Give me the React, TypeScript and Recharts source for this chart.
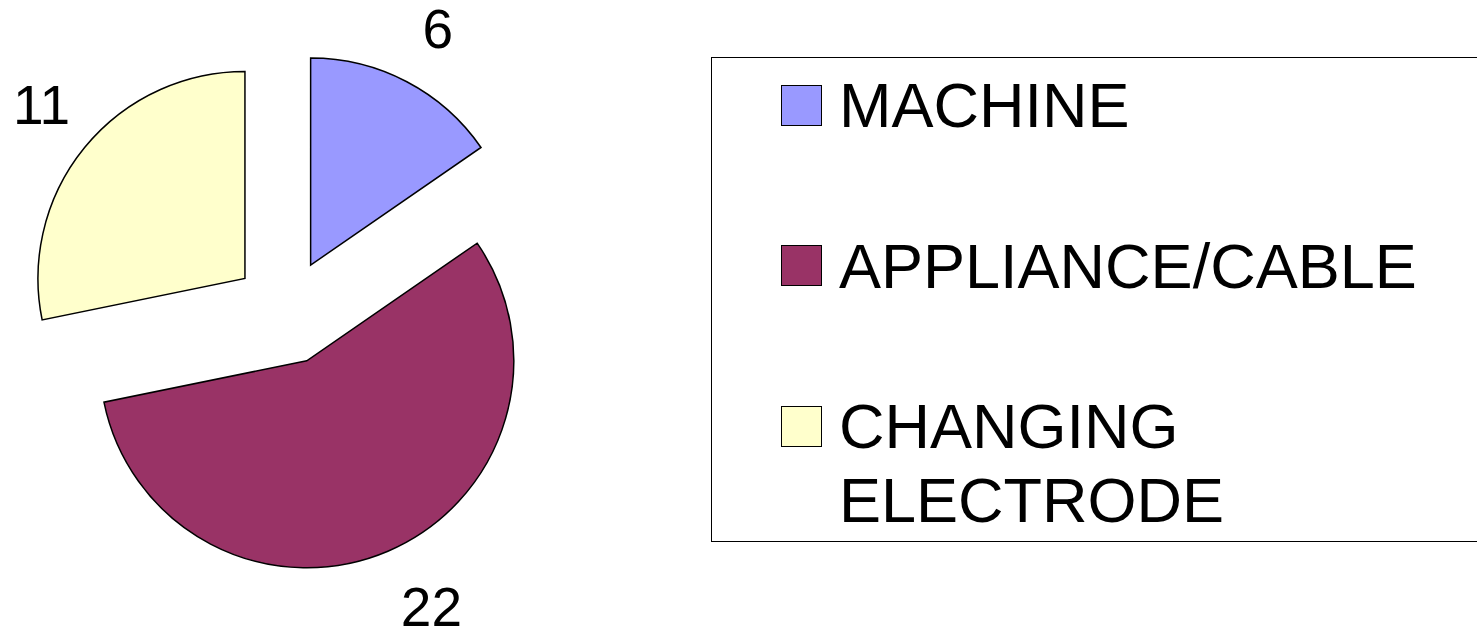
import React from 'react';
import { PieChart, Pie, Legend, Sector } from 'recharts';

const categories = ['MACHINE', 'APPLIANCE/CABLE', 'CHANGING ELECTRODE'];
const values = [6, 22, 11];
const colors = ['#9999FF', '#993366', '#FFFFCC'];

const data = categories.map((name, i) => ({ name, value: values[i] }));

const RAD = Math.PI / 180;
const EXPLODE = 53;
const LABEL_GAP = 38;
const LABEL_FS = 55;
const FONT = '"Liberation Sans", Arial, sans-serif';

const renderSlice = (props: any) => {
  const { cx, cy, midAngle, startAngle, endAngle, outerRadius, index, value } = props;
  const ux = Math.cos(-midAngle * RAD);
  const uy = Math.sin(-midAngle * RAD);
  const ex = cx + EXPLODE * ux;
  const ey = cy + EXPLODE * uy;
  const lr = outerRadius + EXPLODE + LABEL_GAP;
  const px = cx + lr * ux;
  const py = cy + lr * uy;
  const anchor = ux >= 0 ? 'start' : 'end';
  const tx = ux >= 0 ? px - 2 : px + 15;
  const ty = uy < 0 ? py : py + 0.716 * LABEL_FS;
  return (
    <g key={`slice-${index}`}>
      <Sector
        cx={ex}
        cy={ey}
        innerRadius={0}
        outerRadius={outerRadius}
        startAngle={startAngle}
        endAngle={endAngle}
        fill={colors[index]}
        stroke="#000"
        strokeWidth={1.5}
      />
      <text
        x={tx}
        y={ty}
        textAnchor={anchor}
        fontFamily={FONT}
        fontSize={LABEL_FS}
        fill="#000"
      >
        {value}
      </text>
    </g>
  );
};

const ROW = 160.5;
const LINE = 74;

const renderLegend = () => (
  <div
    style={{
      position: 'relative',
      boxSizing: 'border-box',
      width: 780,
      height: 485,
      border: '1.5px solid #000',
      background: '#fff',
      fontFamily: FONT,
      color: '#000',
    }}
  >
    {categories.map((name, i) => (
      <React.Fragment key={name}>
        <div
          style={{
            position: 'absolute',
            left: 69,
            top: 10 + i * ROW + 16.5,
            width: 41,
            height: 41,
            boxSizing: 'border-box',
            border: '1.5px solid #000',
            background: colors[i],
          }}
        />
        <div
          style={{
            position: 'absolute',
            left: 127,
            top: 10 + i * ROW,
            width: 620,
            fontSize: 63,
            lineHeight: `${LINE}px`,
            whiteSpace: 'normal',
          }}
        >
          {name}
        </div>
      </React.Fragment>
    ))}
  </div>
);

export default function App() {
  return (
    <div style={{ width: 1477, height: 630, overflow: 'hidden', background: '#fff' }}>
      <style>{'body{margin:0}'}</style>
      <PieChart width={1477} height={630} margin={{ top: 0, right: 0, bottom: 0, left: 0 }}>
        <Pie
          data={data}
          dataKey="value"
          nameKey="name"
          cx={286}
          cy={312}
          outerRadius={207}
          startAngle={90}
          endAngle={-270}
          fill="none"
          stroke="none"
          labelLine={false}
          label={renderSlice}
          isAnimationActive={false}
        />
        <Legend
          content={renderLegend}
          wrapperStyle={{ position: 'absolute', left: 711, top: 57, width: 780, height: 485 }}
        />
      </PieChart>
    </div>
  );
}
